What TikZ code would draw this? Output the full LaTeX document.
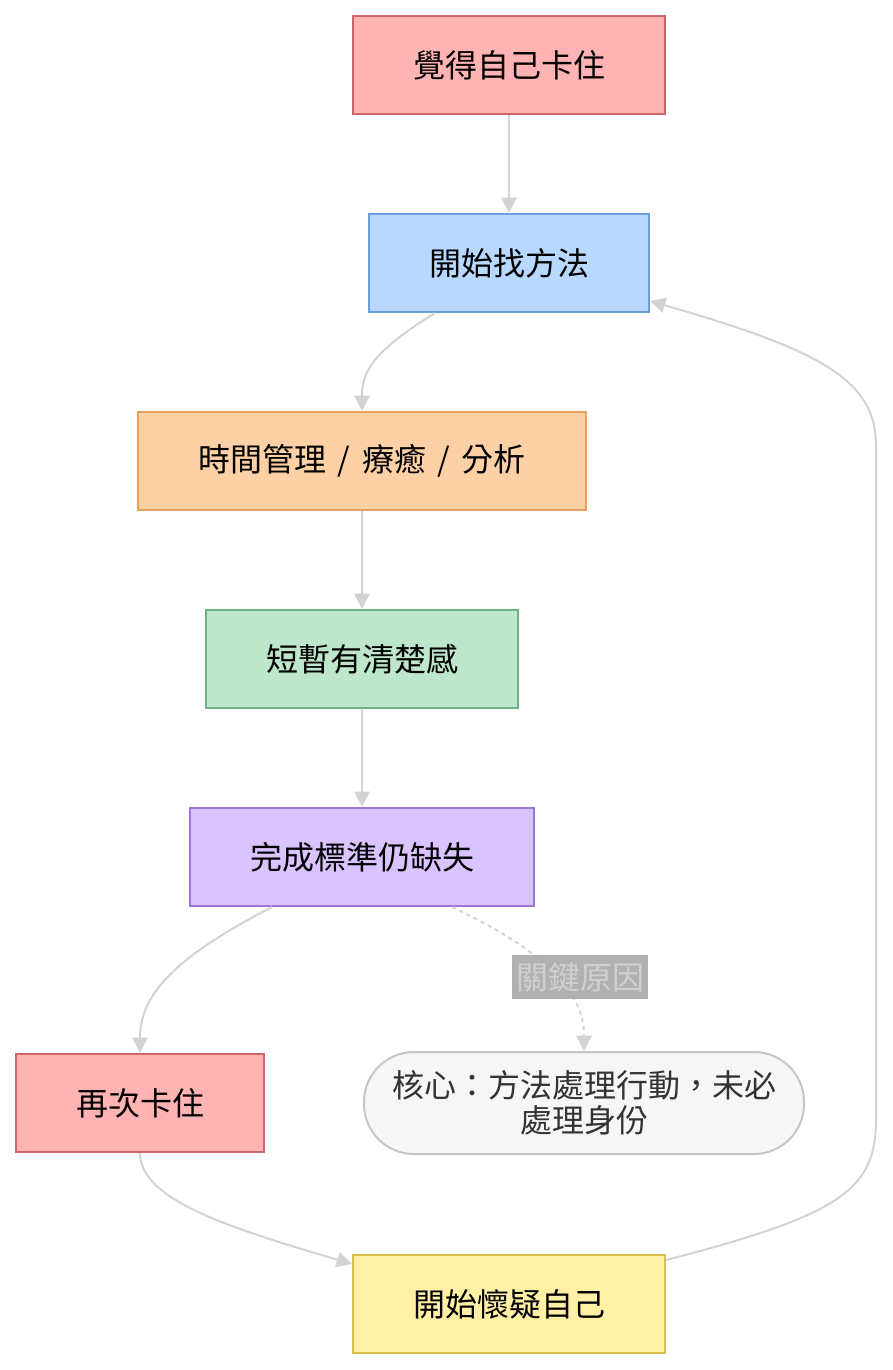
\documentclass[tikz,border=0pt]{standalone}
\usepackage{fontspec}
\newfontfamily\cjk{Noto Sans CJK TC}
\usetikzlibrary{arrows.meta,calc}
\definecolor{redF}{HTML}{FFB3B3}\definecolor{redS}{HTML}{D06464}
\definecolor{blueF}{HTML}{B8D8FF}\definecolor{blueS}{HTML}{6A9FDB}
\definecolor{orF}{HTML}{FDD0A6}\definecolor{orS}{HTML}{E8A060}
\definecolor{grF}{HTML}{BEE6CB}\definecolor{grS}{HTML}{6DB383}
\definecolor{puF}{HTML}{D9C4FF}\definecolor{puS}{HTML}{9B77D6}
\definecolor{yeF}{HTML}{FFF0A6}\definecolor{yeS}{HTML}{D6C050}
\definecolor{gyF}{HTML}{F6F6F6}\definecolor{gyS}{HTML}{C6C6C6}
\definecolor{edge}{HTML}{D3D3D3}
\definecolor{lblF}{HTML}{A8A8A8}\definecolor{lblT}{HTML}{D0D0D0}
\definecolor{txt}{HTML}{333333}
\begin{document}
\begin{tikzpicture}[x=0.75pt,y=-0.75pt,
  box/.style={draw=#1S,fill=#1F,line width=1.5pt,minimum height=98*0.75pt,inner sep=0pt,
    font=\cjk\fontsize{24}{28}\selectfont,text=black},
  conn/.style={draw=edge,line width=1.5pt,-{Triangle[length=11.5pt,width=11.5pt]}},
  ]
\useasboundingbox (0,0) rectangle (892,1370);
\node[box=red,minimum width=312*0.75pt] (A) at (509,65) {覺得自己卡住};
\node[box=blue,minimum width=280*0.75pt] (B) at (509,263) {開始找方法};
\node[box=or,minimum width=448*0.75pt] (C) at (362,461) {時間管理\hspace{0.36em}/\hspace{0.36em}療癒\hspace{0.36em}/\hspace{0.36em}分析};
\node[box=gr,minimum width=312*0.75pt] (D) at (362,659) {短暫有清楚感};
\node[box=pu,minimum width=344*0.75pt] (E) at (362,857) {完成標準仍缺失};
\node[box=red,minimum width=248*0.75pt] (F) at (140,1103) {再次卡住};
\node[box=ye,minimum width=312*0.75pt] (H) at (509,1304) {開始懷疑自己};
\node[draw=gyS,fill=gyF,line width=1.5pt,rounded corners=50*0.75pt,minimum width=440*0.75pt,
  minimum height=102*0.75pt,inner sep=0pt,align=center,text=txt,
  font=\cjk\fontsize{24}{26}\selectfont] (G) at (584,1103) {核心：方法處理行動，未必\\處理身份};

\draw[conn] (A) -- (B);
\draw[conn] ($(B.south)+(-74,0)$) .. controls (372,352) and (362,372) .. (C.north);
\draw[conn] (C) -- (D);
\draw[conn] (D) -- (E);
\draw[conn] ($(E.south)+(-90,0)$) .. controls (165,962) and (140,1000) .. (F.north);
\draw[conn,dashed] ($(E.south)+(90,0)$) .. controls (560,958) and (584,1000) .. (G.north);
\node[fill=lblF,fill opacity=0.9,text opacity=1,text=lblT,inner xsep=3pt,inner ysep=5.5pt,
  font=\cjk\fontsize{24}{28}\selectfont] (L) at (580,977) {關鍵原因};
\draw[conn] (F.south) .. controls (140,1200) and (230,1228) .. ($(H.west)+(0,-40)$);
\coordinate (R1) at (876,1120);
\coordinate (R2) at (876,445);
\draw[conn] ($(H.east)+(0,-44)$) .. controls (840,1215) and (876,1190) .. (R1) -- (R2)
  .. controls (876,380) and (820,350) .. ($(B.east)+(0,38)$);
\end{tikzpicture}
\end{document}
